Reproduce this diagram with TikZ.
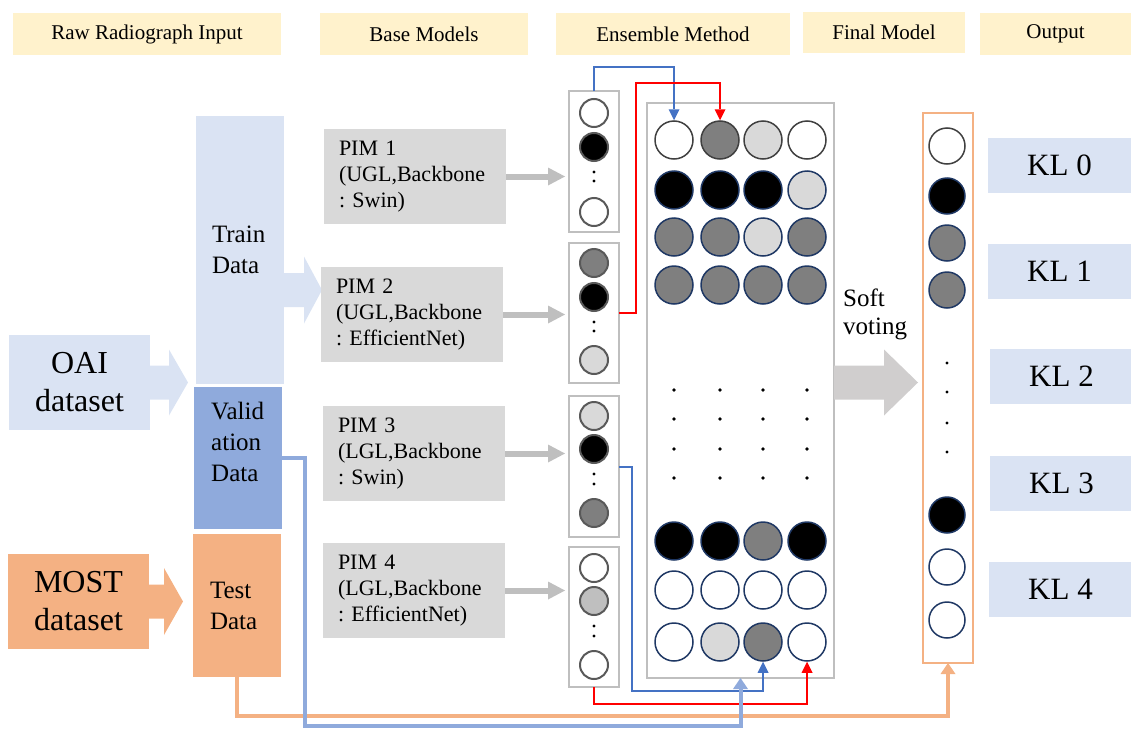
\documentclass[tikz,border=0pt]{standalone}
\usepackage{fontspec}
\setmainfont{Liberation Serif}
\frenchspacing
\usetikzlibrary{arrows.meta,calc}
\definecolor{hdrY}{HTML}{FFF2CC}
\definecolor{lblue}{HTML}{DAE3F3}
\definecolor{vblue}{HTML}{8FAADC}
\definecolor{orng}{HTML}{F4B183}
\definecolor{pimg}{HTML}{D9D9D9}
\definecolor{arrg}{HTML}{BFBFBF}
\definecolor{bigg}{HTML}{D0CECE}
\definecolor{lineblue}{HTML}{4472C4}
\definecolor{navy}{HTML}{1F3864}
\definecolor{dgray}{HTML}{404040}
\definecolor{cgray}{HTML}{595959}
\definecolor{cW}{HTML}{FFFFFF}
\definecolor{cK}{HTML}{000000}
\definecolor{cG}{HTML}{7F7F7F}
\definecolor{cL}{HTML}{D9D9D9}
\definecolor{cM}{HTML}{BFBFBF}
% block arrow: colour, start, shaft length, head length, shaft half height, head half height
\newcommand\blkarr[6]{\fill[#1,shift={#2}] (0,-#5) -- (#3,-#5) -- (#3,-#6) -- (#3+#4,0) -- (#3,#6) -- (#3,#5) -- (0,#5) -- cycle;}
\begin{document}
\begin{tikzpicture}[x=1pt,y=-1pt,
  box/.style={anchor=north west, inner sep=0pt, outer sep=0pt},
  hdr/.style={box, fill=hdrY, minimum height=42pt, font=\fontsize{21}{25}\selectfont},
  pim/.style={box, fill=pimg, minimum height=95pt, text width=152pt, inner xsep=15pt, align=left, font=\fontsize{22}{26}\selectfont},
  databox/.style={box, minimum width=88pt, font=\fontsize{25}{31}\selectfont, align=left},
  dsbox/.style={box, minimum width=141pt, minimum height=95pt, align=center, font=\fontsize{32}{38}\selectfont},
  klbox/.style={box, fill=lblue, minimum width=143pt, minimum height=55pt, font=\fontsize{31}{36}\selectfont},
  colbox/.style={box, draw=arrg, line width=2pt, minimum width=50pt},
  cc/.style={circle, minimum size=28pt, inner sep=0pt, draw=cgray, line width=2pt},
  mc/.style={circle, minimum size=38pt, inner sep=0pt, draw=navy, line width=1.5pt},
  fc/.style={circle, minimum size=36pt, inner sep=0pt, draw=navy, line width=1.5pt},
  garr/.style={draw=arrg, line width=6pt, -{Triangle[length=17pt,width=18pt,line width=0pt]}},
  tconn/.style={line width=2pt, -{Triangle[length=11pt,width=11pt,line width=0pt]}},
  kconn/.style={line width=4pt, -{Triangle[length=11pt,width=15pt,line width=0pt]}},
  dot/.style={fill=black}
]
\useasboundingbox (0,0) rectangle (1131,728);

% headers
\node[hdr, minimum width=268pt] (h1) at (13,13) {Raw Radiograph Input};
\node[hdr, minimum width=208pt] (h2) at (320,13) {Base Models};
\node[hdr, minimum width=234pt] (h3) at (556,13) {Ensemble Method};
\node[hdr, minimum width=162pt, minimum height=41pt] (h4) at (803,12) {Final Model};
\node[hdr, minimum width=151pt] (h5) at (980,13) {Output};

% datasets
\node[dsbox, fill=lblue] (OAI) at (9,335) {OAI\\dataset};
\node[dsbox, fill=orng] (MOST) at (8,554) {MOST\\dataset};

% data splits
\node[databox, fill=lblue, minimum height=268pt, text width=56pt, inner xsep=16pt] (Train) at (196,116) {Train\\Data};
\node[databox, fill=vblue, minimum height=142pt] (Valid) at (194,387) {};
\node[anchor=north west, inner sep=0pt, align=left, font=\fontsize{25}{31}\selectfont] (ValidT) at (211,402) {Valid\\ation\\Data};
\node[databox, fill=orng, minimum height=143pt, text width=54pt, inner xsep=17pt] (Test) at (193,534) {Test\\Data};

% block arrows
\blkarr{lblue}{(OAI.east)}{19}{19}{17}{33}
\blkarr{orng}{(MOST.east)}{15}{19}{17}{33.5}
\blkarr{lblue}{($(Train.east)+(0,40)$)}{20}{18}{17}{33.5}

% PIM boxes
\node[pim] (P1) at (324,129) {PIM 1\\(UGL,Backbone\\: Swin)};
\node[pim] (P2) at (321,267) {PIM 2\\(UGL,Backbone\\: EfficientNet)};
\node[pim] (P3) at (323,406) {PIM 3\\(LGL,Backbone\\: Swin)};
\node[pim] (P4) at (323,543) {PIM 4\\(LGL,Backbone\\: EfficientNet)};

% column boxes
\node[colbox, minimum height=141pt] (col1) at (569,91) {};
\node[colbox, minimum height=140pt] (col2) at (569,243) {};
\node[colbox, minimum height=141pt] (col3) at (569,396) {};
\node[colbox, minimum height=140pt] (col4) at (569,547) {};

% gray arrows PIM -> columns
\draw[garr] (P1.east) -- ($(P1.east -| col1.west)+(-4,0)$);
\draw[garr] (P2.east) -- ($(P2.east -| col2.west)+(-4,0)$);
\draw[garr] (P3.east) -- ($(P3.east -| col3.west)+(-4,0)$);
\draw[garr] (P4.east) -- ($(P4.east -| col4.west)+(-4,0)$);

% column circles
\foreach \y/\c [count=\i] in {113/W,147/K,212/W} \node[cc, fill=c\c] (c1\i) at (594,\y) {};
\foreach \y/\c [count=\i] in {263/G,297/K,360/L} \node[cc, fill=c\c] (c2\i) at (594,\y) {};
\foreach \y/\c [count=\i] in {416/L,449/K,513/G} \node[cc, fill=c\c] (c3\i) at (594,\y) {};
\foreach \y/\c [count=\i] in {568/W,601/M,665/W} \node[cc, fill=c\c] (c4\i) at (594,\y) {};
\foreach \y in {172,181,322,331,474,484,626,636} \fill[dot] (594,\y) circle (1.6pt);

% matrix
\node[box, draw=arrg, line width=2pt, minimum width=187pt, minimum height=575pt] (mat) at (647,103) {};
\foreach \x/\c [count=\i] in {674/W,720/G,763/L,807/W} \node[mc, draw=dgray, fill=c\c] (m1\i) at (\x,140) {};
\foreach \x/\c [count=\i] in {674/K,720/K,763/K,807/L} \node[mc, fill=c\c] (m2\i) at (\x,190) {};
\foreach \x/\c [count=\i] in {674/G,720/G,763/L,807/G} \node[mc, fill=c\c] (m3\i) at (\x,237) {};
\foreach \x/\c [count=\i] in {674/G,720/G,763/G,807/G} \node[mc, fill=c\c] (m4\i) at (\x,285) {};
\foreach \x/\c [count=\i] in {674/K,720/K,763/G,807/K} \node[mc, fill=c\c] (m5\i) at (\x,541) {};
\foreach \x/\c [count=\i] in {674/W,720/W,763/W,807/W} \node[mc, fill=c\c] (m6\i) at (\x,590) {};
\foreach \x/\c [count=\i] in {674/W,720/L,763/G,807/W} \node[mc, fill=c\c] (m7\i) at (\x,642) {};
\foreach \y in {390,419,449,478} \foreach \x in {674,720,763,807} \fill[dot] (\x,\y) circle (1.8pt);

% soft voting
\blkarr{bigg}{($(mat.east)+(0,-8)$)}{50}{34}{17}{33}
\node[anchor=north west, inner sep=0pt, align=left, font=\fontsize{25}{28}\selectfont] (soft) at (843,289) {Soft\\voting};

% final model
\node[box, draw=orng, line width=2.5pt, minimum width=50pt, minimum height=550pt] (fin) at (923,113) {};
\node[fc, draw=dgray, fill=cW] (f1) at (947,146) {};
\foreach \y/\c [count=\i from 2] in {196/K,243/G,290/G,515/K,567/W,620/W} \node[fc, fill=c\c] (f\i) at (947,\y) {};
\foreach \y in {363,392,423,452} \fill[dot] (947,\y) circle (1.6pt);

% outputs
\node[klbox] (kl0) at (988,138) {KL 0};
\node[klbox] (kl1) at (988,244) {KL 1};
\node[klbox] (kl2) at (990,349) {KL 2};
\node[klbox] (kl3) at (990,456) {KL 3};
\node[klbox] (kl4) at (989,562) {KL 4};

% connectors
\draw[tconn, draw=lineblue] (col1.north) -- ++(0,-24) -| (m11.north);
\draw[tconn, draw=red] (col2.east) -- ++(17,0) |- ($(m12.north)+(0,-37)$) -- (m12.north);
\draw[tconn, draw=lineblue] (col3.east) -- ++(13,0) |- ($(m73.south)+(0,29)$) -- (m73.south);
\draw[tconn, draw=red] (col4.south) |- ($(m74.south)+(0,42)$) -- (m74.south);
\draw[kconn, draw=orng] (Test.south) |- ($(fin.south)+(0,53)$) -- (fin.south);
\draw[kconn, draw=vblue] (Valid.east) -- ++(23,0) |- ($(mat.south)+(0,48)$) -- (mat.south);
\end{tikzpicture}
\end{document}
